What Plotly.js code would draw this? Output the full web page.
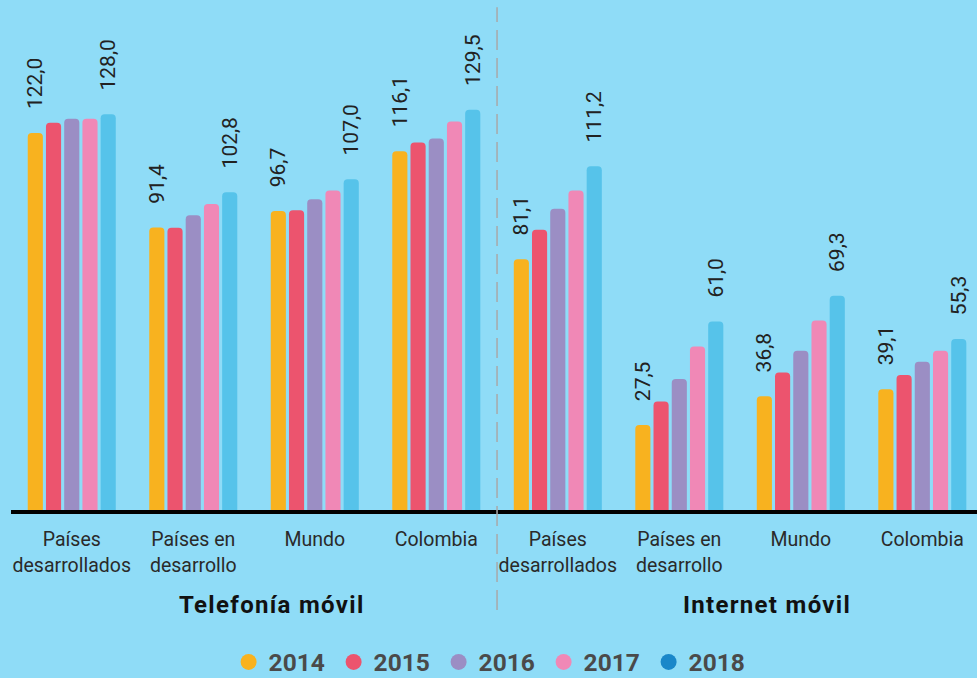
<!DOCTYPE html>
<html>
<head>
<meta charset="utf-8">
<script src="https://cdn.plot.ly/plotly-3.0.1.min.js"></script>
<style>html,body{margin:0;padding:0;background:#8fdcf7;}#chart{width:977px;height:678px;}
.annotation-text{letter-spacing:1.3px;}</style>
</head>
<body>
<div id="chart"></div>
<script>
const categories = ["Países<br>desarrollados","Países en<br>desarrollo","Mundo","Colombia","Países<br>desarrollados","Países en<br>desarrollo","Mundo","Colombia"];
const groups = ["Telefonía móvil","Internet móvil"];
const years = ["2014","2015","2016","2017","2018"];
const v2014 = [122.0, 91.4, 96.7, 116.1, 81.1, 27.5, 36.8, 39.1];
const v2015 = [125.3, 91.3, 97.0, 118.9, 90.7, 35.1, 44.5, 43.7];
const v2016 = [126.6, 95.4, 100.5, 120.2, 97.5, 42.4, 51.5, 48.0];
const v2017 = [126.6, 99.0, 103.4, 125.7, 103.4, 52.9, 61.3, 51.5];
const v2018 = [128.0, 102.8, 107.0, 129.5, 111.2, 61.0, 69.3, 55.3];
const labeledYears = ["2014","2018"];

const series = [v2014, v2015, v2016, v2017, v2018];
const barColors = ["#f8b21f","#ec546e","#9b8ec4","#f088b6","#56c3ea"];
const legendColors = ["#f8b21f","#ec546e","#9b8ec4","#f088b6","#1a87c9"];
const xs = categories.map((c,i)=>i);
const fmt = v => v.toFixed(1).replace('.', ',');
const pad = "\u00a0\u00a0\u00a0\u00a0";

const traces = [];
series.forEach((vals, k) => {
  const lab = labeledYears.includes(years[k]);
  traces.push({
    type: 'bar', x: xs, y: vals, name: years[k], showlegend: false,
    marker: {color: barColors[k], cornerradius: 4},
    text: lab ? vals.map(v => pad + fmt(v)) : vals.map(()=>""),
    textposition: 'outside', textangle: -90, constraintext: 'none', cliponaxis: false,
    textfont: {family: 'Roboto', size: 21, color: '#222'},
    hoverinfo: 'skip'
  });
});
years.forEach((y,k) => {
  traces.push({type:'scatter', mode:'markers', x:[null], y:[null], name: y,
    marker:{color: legendColors[k], size: 16, symbol:'circle'}, showlegend:true, hoverinfo:'skip'});
});

const layout = {
  width: 977, height: 678,
  paper_bgcolor: '#8fdcf7', plot_bgcolor: '#8fdcf7',
  margin: {l: 11, r: 0, t: 0, b: 168, autoexpand: false},
  barmode: 'group', bargap: 0.25, bargroupgap: 0.17,
  font: {family: 'Roboto', color: '#2a2a2a'},
  xaxis: {
    range: [-0.5, 7.45], tickmode: 'array', tickvals: xs, ticktext: categories,
    tickfont: {family: 'Roboto', size: 19.5, color: '#2a2a2a'},
    ticks: 'outside', ticklen: 9, tickcolor: 'rgba(0,0,0,0)',
    showline: true, linecolor: '#000', linewidth: 4, showgrid: false, zeroline: false, fixedrange: true
  },
  yaxis: {range: [0, 165], visible: false, fixedrange: true},
  showlegend: true,
  legend: {orientation: 'h', xref: 'paper', yref: 'paper', x: 0.497, xanchor: 'center', y: -0.298, yanchor: 'middle',
    entrywidth: 60, entrywidthmode: 'pixels', tracegroupgap: 0,
    font: {family: 'Roboto', size: 24.5, color: '#4a4a4a', weight: 'bold'}, bgcolor: 'rgba(0,0,0,0)', itemclick: false},
  shapes: [{type: 'line', xref: 'x', yref: 'paper', x0: 3.5, x1: 3.5, y0: -0.196, y1: 0.986,
    line: {color: '#a8a8a8', width: 1.5, dash: '20px,8px'}}],
  annotations: [
    {x: 1.65, y: -0.187, xref: 'x', yref: 'paper', text: groups[0], showarrow: false, xanchor: 'center', yanchor: 'middle',
      font: {family: 'Roboto', size: 24, color: '#111', weight: 'bold'}},
    {x: 5.72, y: -0.187, xref: 'x', yref: 'paper', text: groups[1], showarrow: false, xanchor: 'center', yanchor: 'middle',
      font: {family: 'Roboto', size: 24, color: '#111', weight: 'bold'}}
  ]
};
Plotly.newPlot('chart', traces, layout, {displayModeBar: false, staticPlot: true});
</script>
</body>
</html>
